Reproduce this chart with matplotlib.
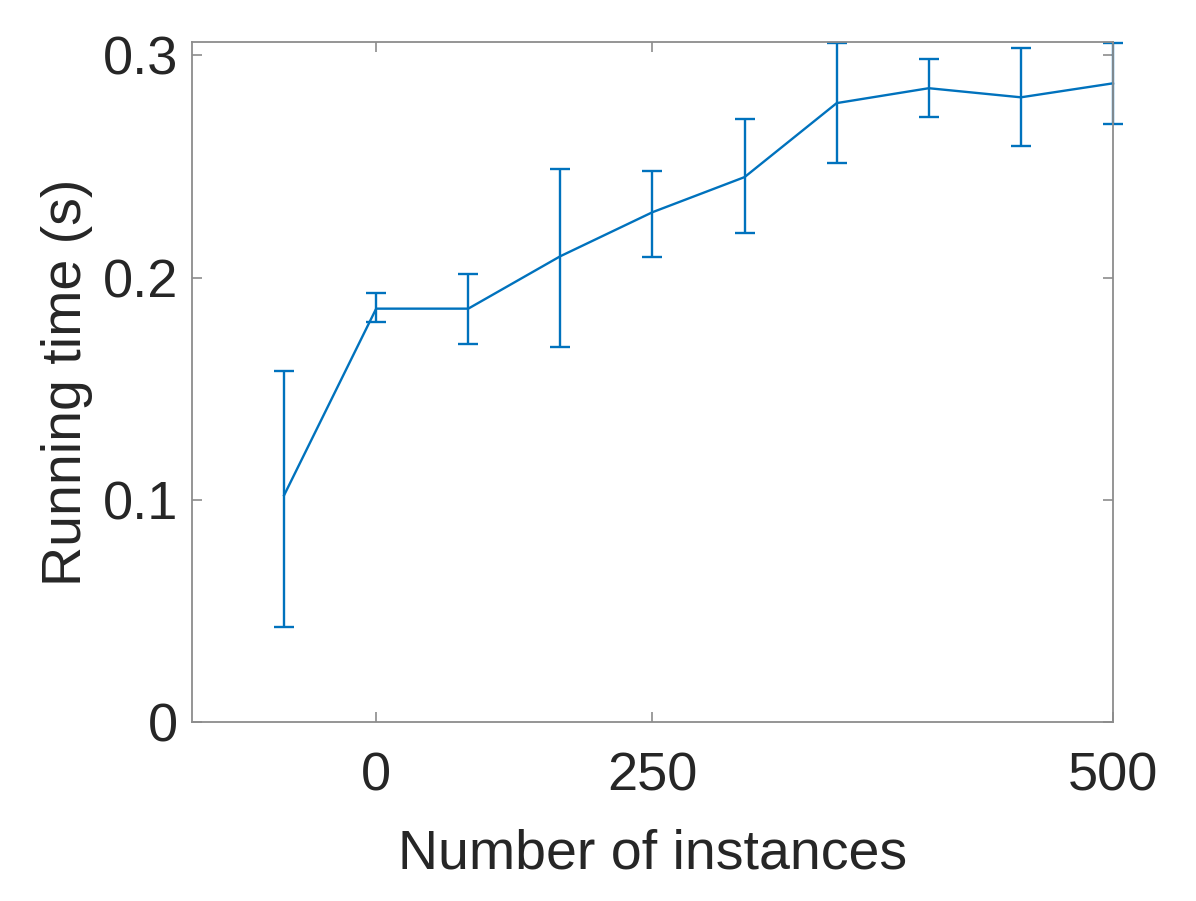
import numpy as np
import matplotlib
matplotlib.use("Agg")
import matplotlib.pyplot as plt

plt.rcParams['font.family'] = ['Liberation Sans', 'DejaVu Sans']

# Data
x = [1, 2, 3, 4, 5, 6, 7, 8, 9, 10]
mean_time = [0.102, 0.186, 0.186, 0.2096, 0.2294, 0.2452, 0.2785, 0.2852, 0.2811, 0.2874]
low_time = [0.0427, 0.180, 0.170, 0.1687, 0.2092, 0.220, 0.2515, 0.2722, 0.2591, 0.269]
high_time = [0.158, 0.193, 0.2015, 0.249, 0.2479, 0.2713, 0.3054, 0.2982, 0.3032, 0.3054]
xtick_pos = [2, 5, 10]
xtick_labels = ['0', '250', '500']
ytick_pos = [0, 0.1, 0.2, 0.3]
ytick_labels = ['0', '0.1', '0.2', '0.3']

mean_time = np.array(mean_time)
yerr = [mean_time - np.array(low_time), np.array(high_time) - mean_time]

fig = plt.figure(figsize=(11.96, 9.01), dpi=100)
ax = fig.add_axes([0.1605, 0.1987, 0.9306 - 0.1605, 0.9534 - 0.1987])

blue = '#0072BD'
lines = ax.errorbar(x, mean_time, yerr=yerr, color=blue, lw=1.7, capsize=7,
                    capthick=1.7, elinewidth=1.7)
for art in lines.get_children():
    art.set_clip_on(False)

ax.set_xlim(0, 10)
ax.set_ylim(0, 0.306)
ax.set_xticks(xtick_pos)
ax.set_xticklabels(xtick_labels)
ax.set_yticks(ytick_pos)
ax.set_yticklabels(ytick_labels)

gray = '#8c8c8c'
txt = '#262626'
for s in ax.spines.values():
    s.set_color(gray)
    s.set_linewidth(1.3)
ax.tick_params(direction='in', length=7, width=1.2, color=gray, labelcolor=txt,
               labelsize=39, top=True, right=True)
ax.tick_params(axis='x', pad=21)
ax.tick_params(axis='y', pad=10)

ax.set_xlabel('Number of instances', fontsize=40, color=txt, labelpad=20)
ax.set_ylabel('Running time (s)', fontsize=40, color=txt, labelpad=7)

fig.savefig('out.png', dpi=100)
